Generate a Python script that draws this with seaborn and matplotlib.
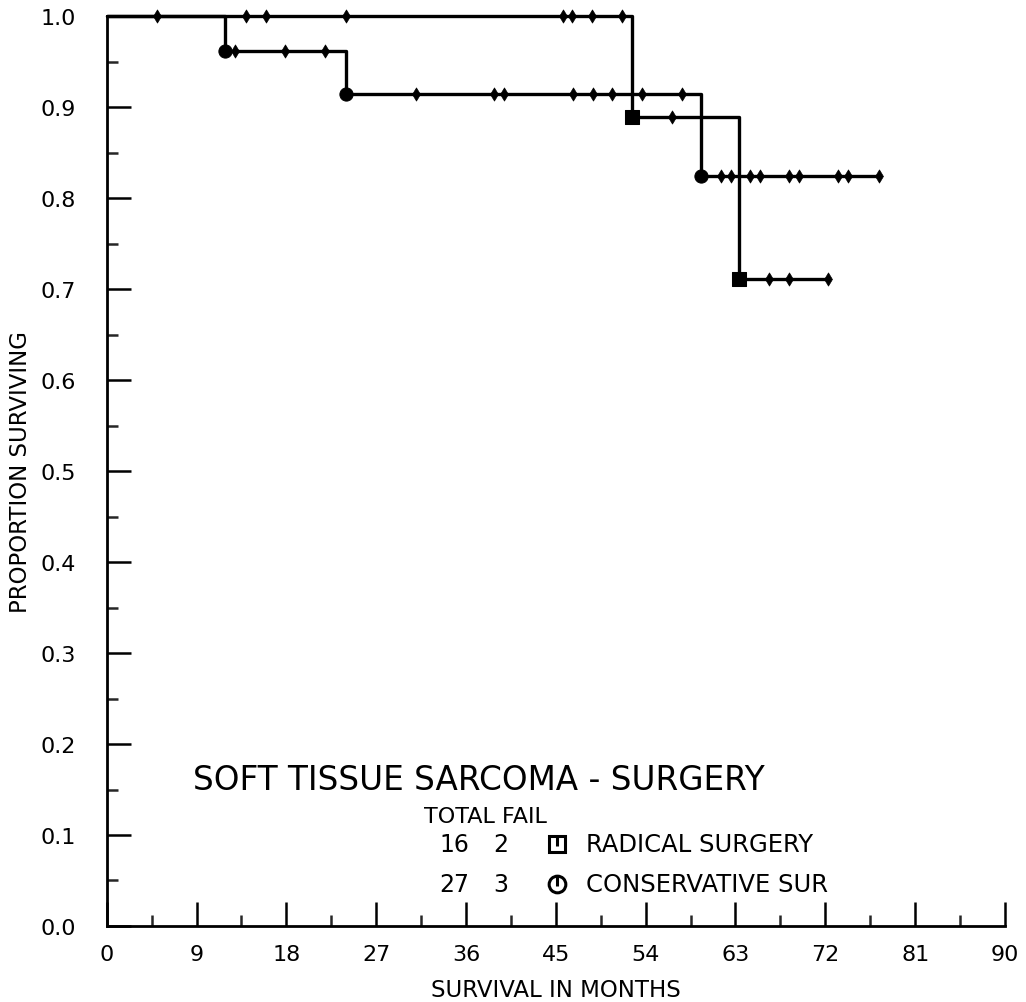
import numpy as np
import pandas as pd
import matplotlib
matplotlib.use("Agg")
import matplotlib.pyplot as plt
import seaborn as sns

# --- Data ---
radical_times = [0.0, 52.6, 63.4, 72.3]
radical_surv = [1.0, 0.889, 0.711, 0.711]
radical_events = [52.6, 63.4]
radical_censored = [5.0, 14.0, 16.0, 24.0, 45.7, 46.6, 48.6, 51.6, 56.6, 66.4, 68.4, 72.3]

conserv_times = [0.0, 11.9, 24.0, 59.5, 77.4]
conserv_surv = [1.0, 0.962, 0.915, 0.824, 0.824]
conserv_events = [11.9, 24.0, 59.5]
conserv_censored = [12.9, 17.9, 21.9, 31.0, 38.8, 39.8, 46.7, 48.7, 50.6, 53.6,
                    57.6, 61.5, 62.6, 64.5, 65.5, 68.4, 69.4, 73.3, 74.3, 77.4]

group_names = ["RADICAL SURGERY", "CONSERVATIVE SUR"]
group_total = [16, 27]
group_fail = [2, 3]

x_ticks = list(range(0, 91, 9))
y_ticks = [round(0.1 * i, 1) for i in range(11)]


def level_at(times, surv, t):
    # value of the step curve at time t (right-continuous)
    idx = np.searchsorted(times, t, side="right") - 1
    return surv[idx]


sns.set_theme(style="white")
plt.rcParams["font.family"] = ["DejaVu Sans"]
plt.rcParams["text.color"] = "black"
plt.rcParams["axes.labelcolor"] = "black"

fig = plt.figure(figsize=(10.26, 10.03), dpi=100)
ax = fig.add_axes([0.104, 0.0758, 0.8755, 0.907])

for times, surv, events, cens, mk in [
    (radical_times, radical_surv, radical_events, radical_censored, "s"),
    (conserv_times, conserv_surv, conserv_events, conserv_censored, "o"),
]:
    df = pd.DataFrame({"t": times, "s": surv})
    sns.lineplot(data=df, x="t", y="s", drawstyle="steps-post", color="black",
                 lw=2.4, estimator=None, sort=False, ax=ax, clip_on=False)
    ev = pd.DataFrame({"t": events, "s": [level_at(times, surv, e) for e in events]})
    sns.scatterplot(data=ev, x="t", y="s", marker=mk, s=90, color="black",
                    edgecolor="black", ax=ax, clip_on=False, zorder=5)
    cdf = pd.DataFrame({"t": cens, "s": [level_at(times, surv, c) for c in cens]})
    sns.scatterplot(data=cdf, x="t", y="s", marker="d", s=45, color="black",
                    edgecolor="black", linewidth=0.5, ax=ax, clip_on=False, zorder=5)

ax.set_xlim(0, 90)
ax.set_ylim(0, 1.0)
ax.set_xticks(x_ticks)
ax.set_yticks(y_ticks)
ax.set_xticks(np.arange(4.5, 90, 9), minor=True)
ax.set_yticks(np.arange(0.05, 1.0, 0.1), minor=True)
ax.set_xticklabels([str(v) for v in x_ticks])
ax.set_yticklabels([f"{v:.1f}" for v in y_ticks])
ax.tick_params(axis="both", which="major", direction="in", length=17, width=1.8,
               labelsize=16, colors="black")
ax.tick_params(axis="x", which="major", pad=13)
ax.tick_params(axis="y", which="major", pad=22)
ax.tick_params(axis="both", which="minor", direction="in", length=8, width=1.8)
ax.tick_params(axis="x", which="both", bottom=True)
ax.tick_params(axis="y", which="both", left=True)
for side in ["top", "right"]:
    ax.spines[side].set_visible(False)
for side in ["left", "bottom"]:
    ax.spines[side].set_linewidth(2)
    ax.spines[side].set_color("black")

ax.set_xlabel("SURVIVAL IN MONTHS", fontsize=16.5, labelpad=10)
ax.set_ylabel("PROPORTION SURVIVING", fontsize=16.5, labelpad=6)

# title and legend block inside the axes
ax.text(0.096, 0.161, "SOFT TISSUE SARCOMA - SURGERY", transform=ax.transAxes,
        fontsize=23.5, va="center", ha="left")
ax.text(0.353, 0.121, "TOTAL FAIL", transform=ax.transAxes,
        fontsize=16, va="center", ha="left")
row_y = [0.090, 0.046]
sym = ["s", "o"]
for i in range(2):
    ax.text(0.404, row_y[i], str(group_total[i]), transform=ax.transAxes,
            fontsize=17, va="center", ha="right")
    ax.text(0.447, row_y[i], str(group_fail[i]), transform=ax.transAxes,
            fontsize=17, va="center", ha="right")
    ax.plot([0.501], [row_y[i]], marker=sym[i], ms=12, mfc="white", mec="black",
            mew=2.2, transform=ax.transAxes, clip_on=False)
    ax.plot([0.501], [row_y[i] + 0.003], marker="|", ms=7, mec="black",
            mew=2.2, transform=ax.transAxes, clip_on=False)
    ax.text(0.534, row_y[i], group_names[i], transform=ax.transAxes,
            fontsize=17.5, va="center", ha="left")

fig.savefig("out.png", dpi=100)
